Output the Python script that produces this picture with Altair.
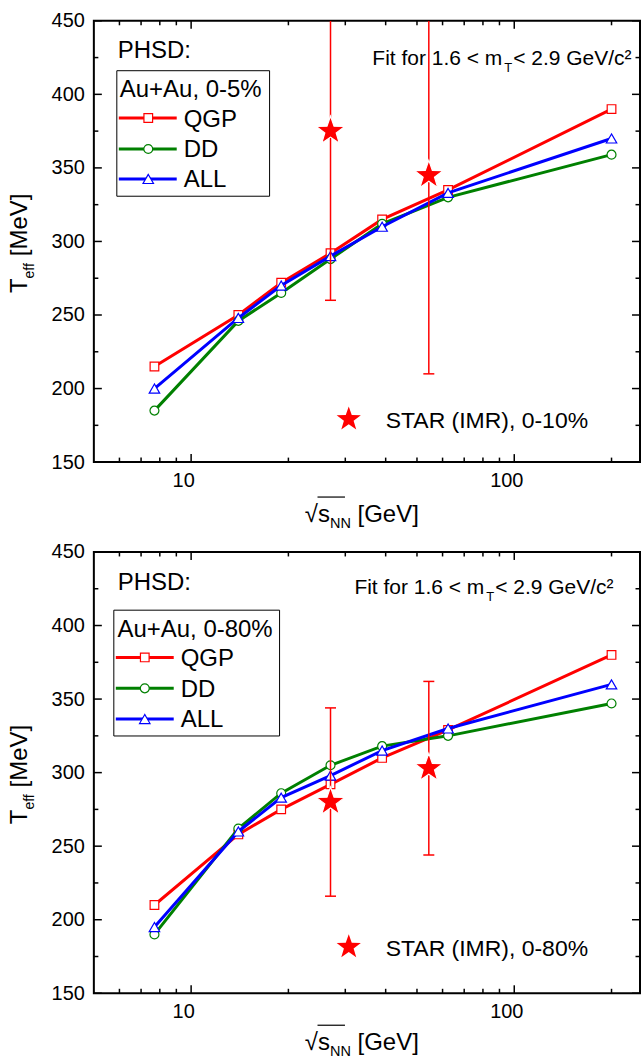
import math
import altair as alt
import pandas as pd

FONT = "Liberation Sans"

# ---------------- data ----------------
sqrt_s_nn = [7.7, 14.0, 19.0, 27.0, 39.0, 62.4, 200.0]
central_qgp = [215, 250, 272, 292, 315, 335, 390]
central_dd = [185, 246, 265, 288, 312, 330, 359]
central_all = [200, 248, 270, 290, 310, 333, 370]
minbias_qgp = [210, 258, 275, 292, 310, 329, 380]
minbias_dd = [190, 262, 286, 305, 318, 325, 347]
minbias_all = [195, 260, 283, 298, 315, 330, 360]

star_sqrt_s = [27.0, 54.4]
central_star = [375, 345]
central_star_err = [115, 135]
minbias_star = [280, 303]
minbias_star_err = [64, 59]

series_names = ["QGP", "DD", "ALL"]
series_colors = ["#ff0000", "#008000", "#0000ff"]
series_shapes = ["square", "circle", "triangle-up"]
series_sizes = [75, 80, 110]

x_major = [10, 100]
x_minor = [6, 7, 8, 9, 20, 30, 40, 50, 60, 70, 80, 90, 200]
y_major = [150, 200, 250, 300, 350, 400, 450]
y_minor = [175, 225, 275, 325, 375, 425]
x_domain = [5, 245]
y_domain = [150, 450]

W, H = 547, 442

# Arial / Liberation Sans advance widths (1/1000 em)
ARIAL = {" ": 278, "[": 278, "]": 278, "(": 333, ")": 333, "M": 833, "e": 556,
         "V": 667, "T": 611, "f": 278, "G": 778, "s": 500, "N": 722, "\u221a": 549,
         "F": 611, "i": 222, "t": 278, "o": 556, "r": 333, "1": 556, ".": 278,
         "6": 556, "<": 584, "m": 833, "2": 556, "9": 556, "/": 278, "c": 500}


def tw(text, size):
    return sum(ARIAL.get(ch, 556) for ch in text) / 1000.0 * size


# star symbol path in [-1, 1]
_pts = []
for i in range(10):
    a = math.radians(-90 + 36 * i)
    r = 1.0 if i % 2 == 0 else 0.40
    _pts.append(f"{r * math.cos(a):.4f},{r * math.sin(a):.4f}")
STAR = "M" + " L".join(_pts) + " Z"

xs = alt.Scale(type="log", domain=x_domain, nice=False)
ys = alt.Scale(domain=y_domain, nice=False, zero=False)

x_axis = alt.Axis(values=x_major, format="d", domain=False, ticks=False, grid=False,
                  title=None, labelFont=FONT, labelFontSize=20, labelColor="black",
                  labelPadding=8.5, labelOffset=-8, labelFlush=False)
y_axis = alt.Axis(values=y_major, domain=False, ticks=False, grid=False, title=None,
                  labelFont=FONT, labelFontSize=20, labelColor="black",
                  labelPadding=9.5, labelFlush=False)


def X(field):
    return alt.X(field, scale=xs, axis=x_axis)


def Y(field):
    return alt.Y(field, scale=ys, axis=y_axis)


one = pd.DataFrame({"k": [0]})


def txt(text, x, y, size, align="left", baseline="alphabetic", angle=None, color="black"):
    kw = dict(text=text, align=align, baseline=baseline, fontSize=size, font=FONT, color=color)
    if angle is not None:
        kw["angle"] = angle
    return alt.Chart(one).mark_text(**kw).encode(x=alt.value(x), y=alt.value(y))


def tick_layers():
    layers = []
    for vals, L in ((x_major, 8), (x_minor, 4.5)):
        d = pd.DataFrame({"v": vals})
        base = alt.Chart(d).mark_rule(color="black", strokeWidth=1.5)
        layers.append(base.encode(x=X("v:Q"), y=alt.value(H), y2=alt.value(H - L)))
        layers.append(base.encode(x=X("v:Q"), y=alt.value(0), y2=alt.value(L)))
    for vals, L in ((y_major, 8), (y_minor, 4.5)):
        d = pd.DataFrame({"v": vals})
        base = alt.Chart(d).mark_rule(color="black", strokeWidth=1.5)
        layers.append(base.encode(y=Y("v:Q"), x=alt.value(0), x2=alt.value(L)))
        layers.append(base.encode(y=Y("v:Q"), x=alt.value(W), x2=alt.value(W - L)))
    return layers


def panel(series_vals, star_y, star_err, legend_title, star_label, lay):
    layers = []
    for k, vals in enumerate(series_vals):
        df = pd.DataFrame({"s": sqrt_s_nn, "T": vals})
        layers.append(alt.Chart(df).mark_line(color=series_colors[k], strokeWidth=3)
                      .encode(x=X("s:Q"), y=Y("T:Q")))
        layers.append(alt.Chart(df).mark_point(shape=series_shapes[k], size=series_sizes[k],
                                               filled=True, fill="white",
                                               stroke=series_colors[k], strokeWidth=1.2,
                                               opacity=1)
                      .encode(x=X("s:Q"), y=Y("T:Q")))

    # STAR data points with error bars
    sd = pd.DataFrame({"s": star_sqrt_s, "T": star_y, "err": star_err})
    top = y_domain[1]
    base = alt.Chart(sd).transform_calculate(
        lo="datum.T - datum.err", hi="datum.T + datum.err",
        hic=f"min(datum.T + datum.err, {top})")
    layers.append(base.mark_rule(color="red", strokeWidth=1.5, clip=True).encode(
        x=X("s:Q"), y=Y("lo:Q"), y2="hic:Q"))
    layers.append(base.mark_rule(color="red", strokeWidth=1.5, xOffset=-5.5, x2Offset=5.5)
                  .encode(x=X("s:Q"), x2="s:Q", y=Y("lo:Q")))
    layers.append(base.transform_filter(f"datum.hi <= {top}")
                  .mark_rule(color="red", strokeWidth=1.5, xOffset=-5.5, x2Offset=5.5)
                  .encode(x=X("s:Q"), x2="s:Q", y=Y("hi:Q")))
    layers.append(base.mark_point(shape=STAR, size=900, filled=True, fill="red",
                                  stroke="white", strokeWidth=1.2, opacity=1)
                  .encode(x=X("s:Q"), y=Y("T:Q")))

    # legend box
    bx0, bx1, by0, by1 = lay["box"]
    layers.append(alt.Chart(one).mark_rect(fillOpacity=0, stroke="black", strokeWidth=1)
                  .encode(x=alt.value(bx0), x2=alt.value(bx1), y=alt.value(by0), y2=alt.value(by1)))
    layers.append(txt(legend_title, lay["title"][0], lay["title"][1], 24))
    lx0, lx1, mx, labx = lay["row_x"]
    for k, ry in enumerate(lay["rows"]):
        layers.append(alt.Chart(one).mark_rule(color=series_colors[k], strokeWidth=3)
                      .encode(x=alt.value(lx0), x2=alt.value(lx1), y=alt.value(ry)))
        layers.append(alt.Chart(one).mark_point(shape=series_shapes[k], size=series_sizes[k],
                                                filled=True, fill="white",
                                                stroke=series_colors[k], strokeWidth=1.2,
                                                opacity=1)
                      .encode(x=alt.value(mx), y=alt.value(ry)))
        layers.append(txt(series_names[k], labx, ry + 8.5, 24))

    layers.append(txt("PHSD:", lay["phsd"][0], lay["phsd"][1], 24))

    # Fit for 1.6 < m_T < 2.9 GeV/c^2
    fx, fy = lay["fit"]
    layers.append(txt("Fit for 1.6 < m", fx, fy, 21, align="right"))
    layers.append(txt("T", fx + 2, fy + 7.5, 13))
    layers.append(txt("< 2.9 GeV/c\u00b2", fx + 11, fy, 21))

    # STAR legend entry
    sxp, syp = lay["star"]
    layers.append(alt.Chart(one).mark_point(shape=STAR, size=650, filled=True, fill="red",
                                            opacity=1)
                  .encode(x=alt.value(sxp), y=alt.value(syp)))
    layers.append(txt(star_label, sxp + 37, syp + 8.7, 23))

    # y axis title  T_eff [MeV]
    yb = -67
    y0 = 272.7
    layers.append(txt("T", yb, y0, 24, angle=270))
    y1 = y0 - tw("T", 24)
    layers.append(txt("eff", yb + 7, y1, 14, angle=270))
    y2 = y1 - tw("eff", 14) - tw(" ", 24)
    layers.append(txt("[MeV]", yb, y2, 24, angle=270))

    # x axis title  sqrt(s_NN) [GeV]
    xb = H + lay["xb"]
    xr = 236.5
    layers.append(txt("\u221as", xr, xb, 24, align="right"))
    layers.append(txt("NN", xr, xb + 6, 14.5))
    layers.append(txt("[GeV]", xr + tw("NN", 14.5) + tw(" ", 24), xb, 24))
    layers.append(alt.Chart(one).mark_rule(color="black", strokeWidth=1.2)
                  .encode(x=alt.value(xr - 12.5), x2=alt.value(xr + 15), y=alt.value(xb - 24.5)))

    layers += tick_layers()
    return alt.layer(*layers).properties(width=W, height=H)


top_lay = dict(phsd=(24, 37.7), box=(23, 176, 50, 175.7), title=(26, 76.4),
               row_x=(25, 83, 54.5, 90), rows=[97.4, 128.4, 158.4],
               fit=(409, 44), star=(255.3, 399), xb=59.5)
bot_lay = dict(phsd=(24, 37.6), box=(20, 186, 58.3, 184.3), title=(23.7, 85),
               row_x=(22, 80, 51, 87), rows=[105.6, 136.6, 167.3],
               fit=(391, 41.6), star=(255.3, 395.6), xb=56.5)

top_panel = panel([central_qgp, central_dd, central_all], central_star, central_star_err,
                  "Au+Au, 0-5%", "STAR (IMR), 0-10%", top_lay)
bot_panel = panel([minbias_qgp, minbias_dd, minbias_all], minbias_star, minbias_star_err,
                  "Au+Au, 0-80%", "STAR (IMR), 0-80%", bot_lay)

chart = (alt.vconcat(top_panel, bot_panel, spacing=10)
         .properties(padding={"left": 7, "top": 9, "right": 0, "bottom": 0},
                     background="white")
         .configure_view(stroke="black", strokeWidth=2))

chart.save("out.html", embed_options={"renderer": "svg", "actions": False})
